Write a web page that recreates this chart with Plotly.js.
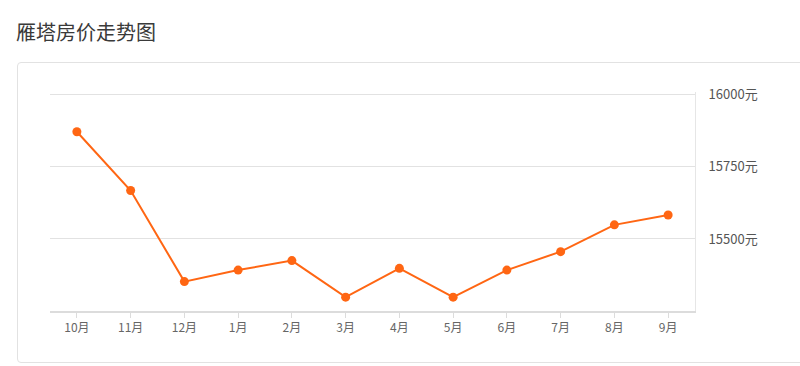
<!DOCTYPE html>
<html>
<head>
<meta charset="utf-8">
<script src="https://cdn.plot.ly/plotly-3.0.1.min.js"></script>
<style>
  html, body { margin: 0; padding: 0; background: #fff; }
  #wrap { position: relative; width: 800px; height: 366px; overflow: hidden; }
  #box { position: absolute; left: 17px; top: 62px; width: 800px; height: 301px;
         border: 1px solid #e2e2e2; border-radius: 4px; box-sizing: border-box; }
  #chart { position: absolute; left: 0; top: 0; width: 800px; height: 366px; }
</style>
</head>
<body>
<div id="wrap">
  <div id="box"></div>
  <div id="chart"></div>
</div>
<script>
const months = ["10月","11月","12月","1月","2月","3月","4月","5月","6月","7月","8月","9月"];
const prices = [15872, 15668, 15352, 15392, 15425, 15298, 15398, 15298, 15392, 15456, 15549, 15583];
const yTickVals = [15500, 15750, 16000];
const yTickText = ["15500元", "15750元", "16000元"];
const titleText = "雁塔房价走势图";

const font = '"Noto Sans CJK SC", "Noto Sans", sans-serif';

Plotly.newPlot('chart', [{
  x: months,
  y: prices,
  type: 'scatter',
  mode: 'lines+markers',
  line: { color: '#ff6613', width: 2 },
  marker: { color: '#ff6613', size: 9 },
  hoverinfo: 'x+y'
}], {
  width: 800,
  height: 366,
  margin: { l: 50, r: 105, t: 92, b: 55 },
  paper_bgcolor: 'rgba(0,0,0,0)',
  plot_bgcolor: 'rgba(0,0,0,0)',
  showlegend: false,
  title: {
    text: titleText,
    xref: 'container', yref: 'container',
    x: 16 / 800, xanchor: 'left',
    y: 1 - 33 / 366, yanchor: 'middle',
    font: { family: font, size: 20, color: '#3a3a3a' }
  },
  xaxis: {
    type: 'category',
    range: [-0.5, 11.5],
    showgrid: false,
    zeroline: false,
    showline: true,
    linecolor: '#dcdcdc',
    linewidth: 2,
    ticks: 'outside',
    ticklen: 5,
    tickwidth: 1,
    tickcolor: '#dcdcdc',
    tickfont: { family: font, size: 12, color: '#666' },
    fixedrange: true
  },
  yaxis: {
    side: 'right',
    range: [15250, 16010],
    tickvals: yTickVals,
    ticktext: yTickText,
    showgrid: true,
    gridcolor: '#e2e2e2',
    gridwidth: 1,
    zeroline: false,
    showline: true,
    linecolor: '#e6e6e6',
    linewidth: 1,
    ticks: '',
    ticklabelstandoff: 10,
    tickfont: { family: font, size: 13, color: '#555' },
    fixedrange: true
  }
}, { displayModeBar: false });
</script>
</body>
</html>
